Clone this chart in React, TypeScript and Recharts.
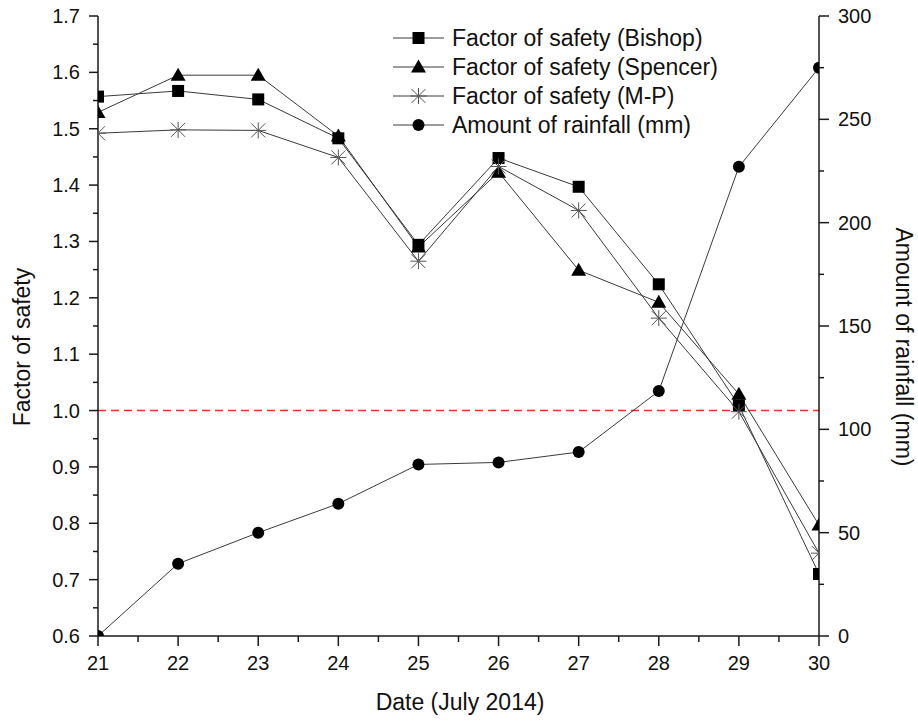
import React from "react";
import { ComposedChart, Line, XAxis, YAxis, ReferenceLine, Legend } from "recharts";

const days = [21, 22, 23, 24, 25, 26, 27, 28, 29, 30];
const bishop = [1.557, 1.567, 1.552, 1.483, 1.294, 1.448, 1.397, 1.224, 1.009, 0.71];
const spencer = [1.529, 1.595, 1.595, 1.487, 1.29, 1.423, 1.249, 1.192, 1.029, 0.797];
const mp = [1.492, 1.498, 1.497, 1.449, 1.265, 1.433, 1.355, 1.164, 0.998, 0.747];
const rainfall = [0, 35, 50, 64, 83, 84, 89, 118.5, 227, 275];

const dayTicks = [21, 21.5, 22, 22.5, 23, 23.5, 24, 24.5, 25, 25.5, 26, 26.5, 27, 27.5, 28, 28.5, 29, 29.5, 30];
const fosTicks = [0.6, 0.65, 0.7, 0.75, 0.8, 0.85, 0.9, 0.95, 1.0, 1.05, 1.1, 1.15, 1.2, 1.25, 1.3, 1.35, 1.4, 1.45, 1.5, 1.55, 1.6, 1.65, 1.7];
const rainTicks = [0, 25, 50, 75, 100, 125, 150, 175, 200, 225, 250, 275, 300];

const legendNames = [
  "Factor of safety (Bishop)",
  "Factor of safety (Spencer)",
  "Factor of safety (M-P)",
  "Amount of rainfall (mm)",
];

const data = days.map((d, i) => ({
  day: d,
  bishop: bishop[i],
  spencer: spencer[i],
  mp: mp[i],
  rain: rainfall[i],
}));

const AX = "#1a1a1a";
const LINE = "#3a3a3a";
// plot box, used to clip markers sitting on the frame
const PLOT = { x: 98, y: 16, w: 721, h: 620 };

const Square = ({ cx, cy, clip }: any) => (
  <rect x={cx - 6} y={cy - 6} width={12} height={12} fill="#000" clipPath={clip ? "url(#plotArea)" : undefined} />
);
const Triangle = ({ cx, cy, clip }: any) => (
  <path
    d={`M${cx},${cy - 7.5} L${cx + 7.5},${cy + 5.5} L${cx - 7.5},${cy + 5.5} Z`}
    fill="#000"
    clipPath={clip ? "url(#plotArea)" : undefined}
  />
);
const Star = ({ cx, cy, clip }: any) => (
  <path
    d={`M${cx},${cy - 8} L${cx},${cy + 8} M${cx - 7},${cy - 7} L${cx + 7},${cy + 7} M${cx - 7},${cy + 7} L${cx + 7},${cy - 7} M${cx - 8},${cy} L${cx + 8},${cy}`}
    stroke="#555"
    strokeWidth={1}
    fill="none"
    clipPath={clip ? "url(#plotArea)" : undefined}
  />
);
const Dot = ({ cx, cy, clip }: any) => (
  <circle cx={cx} cy={cy} r={6} fill="#000" clipPath={clip ? "url(#plotArea)" : undefined} />
);

const markers = [Square, Triangle, Star, Dot];

const isMajor = (v: number, step: number) => Math.abs(v / step - Math.round(v / step)) < 1e-6;

const BottomTick = ({ x, y, payload }: any) => {
  const major = isMajor(payload.value, 1);
  return (
    <g>
      <line x1={x} y1={y} x2={x} y2={y + (major ? 10 : 6)} stroke={AX} strokeWidth={1.5} />
      {major && (
        <text x={x} y={y + 34} textAnchor="middle" fontSize={20} fill="#111">
          {payload.value}
        </text>
      )}
    </g>
  );
};

const TopTick = ({ x, y, payload }: any) => {
  const major = isMajor(payload.value, 1);
  return <line x1={x} y1={y} x2={x} y2={y + (major ? 10 : 6)} stroke={AX} strokeWidth={1.5} />;
};

const LeftTick = ({ x, y, payload }: any) => {
  const major = isMajor(payload.value, 0.1);
  return (
    <g>
      <line x1={x} y1={y} x2={x - (major ? 9 : 5)} y2={y} stroke={AX} strokeWidth={1.5} />
      {major && (
        <text x={x - 18} y={y + 7} textAnchor="end" fontSize={20} fill="#111">
          {payload.value.toFixed(1)}
        </text>
      )}
    </g>
  );
};

const RightTick = ({ x, y, payload }: any) => {
  const major = isMajor(payload.value, 50);
  return (
    <g>
      <line x1={x} y1={y} x2={x + (major ? 10 : 5)} y2={y} stroke={AX} strokeWidth={1.5} />
      {major && (
        <text x={x + 19} y={y + 7} textAnchor="start" fontSize={20} fill="#111">
          {payload.value}
        </text>
      )}
    </g>
  );
};

const LegendBox = () => (
  <svg width={340} height={120}>
    {legendNames.map((name, i) => {
      const M = markers[i];
      const cy = 14 + i * 29;
      return (
        <g key={name}>
          <line x1={3} y1={cy} x2={54} y2={cy} stroke={LINE} strokeWidth={1} />
          <M cx={28.5} cy={cy} />
          <text x={62} y={cy + 8} fontSize={23} fill="#111">
            {name}
          </text>
        </g>
      );
    })}
  </svg>
);

export default function App() {
  return (
    <div style={{ position: "absolute", left: 0, top: 0, background: "#fff", fontFamily: "'Liberation Sans', Arial, sans-serif" }}>
      <svg width={0} height={0} style={{ position: "absolute" }}>
        <defs>
          <clipPath id="plotArea">
            <rect x={PLOT.x} y={PLOT.y} width={PLOT.w} height={PLOT.h} />
          </clipPath>
        </defs>
      </svg>
      <ComposedChart width={918} height={722} data={data} margin={{ top: 16, right: 0, bottom: 0, left: 0 }}>
        <XAxis
          xAxisId="b"
          dataKey="day"
          type="number"
          domain={[21, 30]}
          ticks={dayTicks}
          interval={0}
          allowDataOverflow
          height={86}
          tickSize={0}
          tickMargin={0}
          tickLine={false}
          axisLine={{ stroke: AX, strokeWidth: 1.5 }}
          tick={BottomTick}
          label={{
            content: () => (
              <text x={460} y={710} textAnchor="middle" fontSize={23} fill="#111">
                Date (July 2014)
              </text>
            ),
          }}
        />
        <XAxis
          xAxisId="t"
          orientation="top"
          dataKey="day"
          type="number"
          domain={[21, 30]}
          ticks={dayTicks}
          interval={0}
          height={0}
          tickSize={0}
          tickMargin={0}
          tickLine={false}
          axisLine={{ stroke: AX, strokeWidth: 1.5 }}
          tick={TopTick}
        />
        <YAxis
          yAxisId="fos"
          domain={[0.6, 1.7]}
          ticks={fosTicks}
          interval={0}
          width={98}
          tickSize={0}
          tickMargin={0}
          tickLine={false}
          axisLine={{ stroke: AX, strokeWidth: 1.5 }}
          tick={LeftTick}
          label={{
            content: () => (
              <text x={30} y={347} transform="rotate(-90 30 347)" textAnchor="middle" fontSize={23} fill="#111">
                Factor of safety
              </text>
            ),
          }}
        />
        <YAxis
          yAxisId="rain"
          orientation="right"
          domain={[0, 300]}
          ticks={rainTicks}
          interval={0}
          width={99}
          tickSize={0}
          tickMargin={0}
          tickLine={false}
          axisLine={{ stroke: AX, strokeWidth: 1.5 }}
          tick={RightTick}
          label={{
            content: () => (
              <text x={896} y={347} transform="rotate(90 896 347)" textAnchor="middle" fontSize={23} fill="#111">
                Amount of rainfall (mm)
              </text>
            ),
          }}
        />
        <ReferenceLine xAxisId="b" yAxisId="fos" y={1} stroke="#ff2b2b" strokeWidth={1.5} strokeDasharray="8 5" />
        <Line xAxisId="b" yAxisId="fos" dataKey="bishop" stroke={LINE} strokeWidth={1} isAnimationActive={false}
          dot={(p: any) => <Square key={`b${p.index}`} cx={p.cx} cy={p.cy} clip />} />
        <Line xAxisId="b" yAxisId="fos" dataKey="spencer" stroke={LINE} strokeWidth={1} isAnimationActive={false}
          dot={(p: any) => <Triangle key={`s${p.index}`} cx={p.cx} cy={p.cy} clip />} />
        <Line xAxisId="b" yAxisId="fos" dataKey="mp" stroke={LINE} strokeWidth={1} isAnimationActive={false}
          dot={(p: any) => <Star key={`m${p.index}`} cx={p.cx} cy={p.cy} clip />} />
        <Line xAxisId="b" yAxisId="rain" dataKey="rain" stroke={LINE} strokeWidth={1} isAnimationActive={false}
          dot={(p: any) => <Dot key={`r${p.index}`} cx={p.cx} cy={p.cy} clip />} />
        <Legend
          layout="vertical"
          align="center"
          verticalAlign="middle"
          content={LegendBox}
          wrapperStyle={{ left: 390, top: 24, width: 340, height: 120 }}
        />
      </ComposedChart>
    </div>
  );
}
